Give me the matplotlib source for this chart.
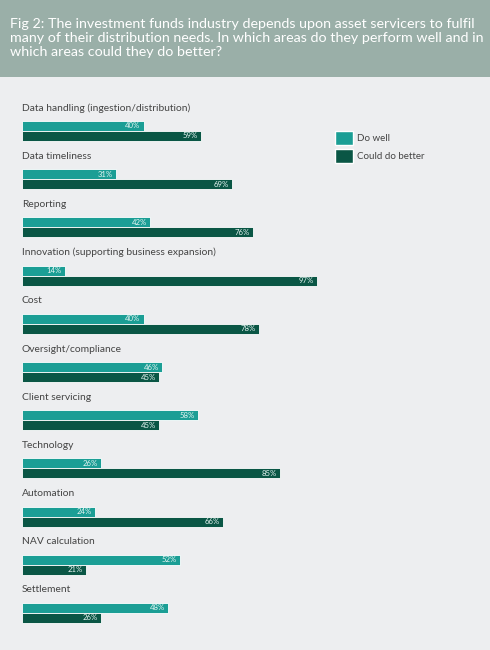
import matplotlib.pyplot as plt
from matplotlib.patches import Rectangle, Patch

# Survey data
categories = ['Data handling (ingestion/distribution)', 'Data timeliness', 'Reporting',
              'Innovation (supporting business expansion)', 'Cost', 'Oversight/compliance',
              'Client servicing', 'Technology', 'Automation', 'NAV calculation', 'Settlement']
do_well = [40, 31, 42, 14, 40, 46, 58, 26, 24, 52, 48]
do_better = [59, 69, 76, 97, 78, 45, 45, 85, 66, 21, 26]

title = ('Fig 2: The investment funds industry depends upon asset servicers to fulfil\n'
         'many of their distribution needs. In which areas do they perform well and in\n'
         'which areas could they do better?')

teal = '#1b9e95'
dark = '#0a5645'
bg = '#edeef0'
header = '#9aafa8'
W, H = 490, 650

plt.rcParams['font.family'] = ['Lato', 'DejaVu Sans']
fig = plt.figure(figsize=(W / 100, H / 100), dpi=100)
fig.patch.set_facecolor(bg)

# header band
fig.patches.append(Rectangle((0, 1 - 77 / H), 1, 77 / H, transform=fig.transFigure,
                             facecolor=header, edgecolor='none'))
fig.text(10 / W, 1 - 38 / H, title, color='white', fontsize=10.3, va='center', ha='left',
         linespacing=1.22)

# bars axes: group i pair centre at pixel 131 + 48.2*i
step = 48.2
top_px, bot_px = 90, 650
ax = fig.add_axes([22 / W, 0, 304 / W, (bot_px - top_px) / H])
ax.set_facecolor('none')
ax.set_xlim(0, 100)
ax.set_ylim((bot_px - 131) / step, (top_px - 131) / step)
ax.axis('off')

bh = 10 / step
pos = list(range(len(categories)))
ax.barh([p - bh / 2 for p in pos], do_well, height=bh, color=teal, edgecolor='white', linewidth=0.6)
ax.barh([p + bh / 2 for p in pos], do_better, height=bh, color=dark, edgecolor='white', linewidth=0.6)

for p, cat, a, b in zip(pos, categories, do_well, do_better):
    ax.text(0, p - 23 / step, cat, fontsize=7.4, color='#444444', va='center', ha='left')
    ax.text(a - 1, p - bh / 2, f'{a}%', fontsize=5.6, color='#e6f4f2', va='center', ha='right')
    ax.text(b - 1, p + bh / 2, f'{b}%', fontsize=5.6, color='#e6f4f2', va='center', ha='right')

handles = [Patch(facecolor=teal, edgecolor='white', label='Do well'),
           Patch(facecolor=dark, edgecolor='white', label='Could do better')]
fig.legend(handles=handles, loc='upper left', bbox_to_anchor=(326 / W, 1 - 122 / H),
           frameon=False, fontsize=7.0, handlelength=1.9, handleheight=1.9,
           handletextpad=0.4, labelspacing=0.4, labelcolor='#444444')

fig.savefig('out.png', dpi=100, facecolor=bg)
